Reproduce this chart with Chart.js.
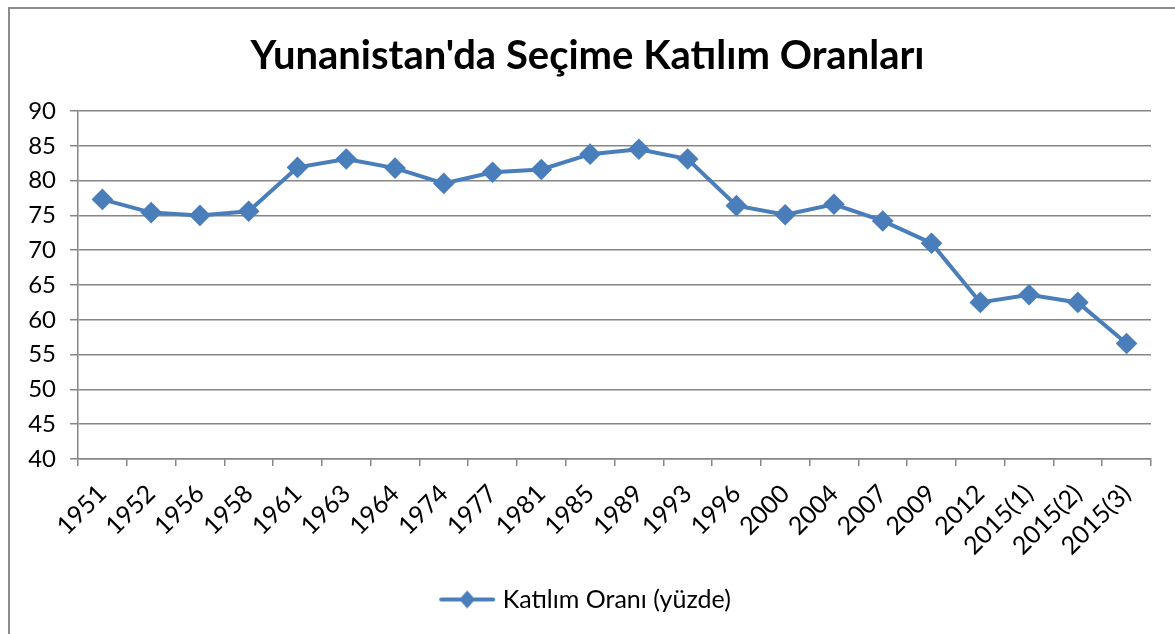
<!DOCTYPE html>
<html>
<head>
<meta charset="utf-8">
<script src="https://cdn.jsdelivr.net/npm/chart.js@4.4.0/dist/chart.umd.min.js"></script>
<style>
  html, body { margin: 0; padding: 0; background: #fff; }
  #wrap { position: absolute; left: 0; top: 0; width: 1175px; height: 634px; }
  #frame { position: absolute; left: 8px; top: 7px; width: 1175px; height: 640px;
           border-left: 2px solid #8c8c8c; border-top: 2px solid #8c8c8c; }
  canvas { position: absolute; left: 0; top: 0; }
</style>
</head>
<body>
<div id="wrap">
  <div id="frame"></div>
  <canvas id="chart" width="1175" height="634"></canvas>
</div>
<script>
// Greek election turnout
const elections = ['1951', '1952', '1956', '1958', '1961', '1963', '1964', '1974', '1977', '1981', '1985',
                   '1989', '1993', '1996', '2000', '2004', '2007', '2009', '2012', '2015(1)', '2015(2)', '2015(3)'];
const turnout = [77.3, 75.4, 75.0, 75.6, 81.9, 83.1, 81.8, 79.6, 81.2, 81.6, 83.8,
                 84.5, 83.1, 76.4, 75.1, 76.6, 74.2, 71.0, 62.5, 63.6, 62.5, 56.6];
const yTicks = [40, 45, 50, 55, 60, 65, 70, 75, 80, 85, 90];

const lineColor = '#4a7ebb';
const gridColor = '#868686';

// legend marker: line with a diamond in the middle
function legendMarker() {
    const c = document.createElement('canvas');
    c.width = 58; c.height = 22;
    const g = c.getContext('2d');
    g.strokeStyle = lineColor;
    g.lineWidth = 4;
    g.lineCap = 'round';
    g.beginPath(); g.moveTo(3, 11); g.lineTo(55, 11); g.stroke();
    g.fillStyle = lineColor;
    g.beginPath(); g.moveTo(29, 2); g.lineTo(37, 11); g.lineTo(29, 20); g.lineTo(21, 11); g.closePath(); g.fill();
    return c;
}

new Chart(document.getElementById('chart'), {
    type: 'line',
    data: {
        labels: elections,
        datasets: [{
            label: 'Katılım Oranı (yüzde)',
            data: turnout,
            borderColor: lineColor,
            backgroundColor: lineColor,
            borderWidth: 4,
            pointStyle: 'rectRot',
            pointRadius: 8,
            pointHoverRadius: 8,
            tension: 0
        }]
    },
    options: {
        responsive: false,
        animation: false,
        layout: { padding: { left: 24, right: 24, top: 22, bottom: 12 } },
        plugins: {
            title: {
                display: true,
                text: "Yunanistan'da Seçime Katılım Oranları",
                color: '#000',
                font: { family: 'Lato', size: 40, weight: 'bold' },
                padding: { top: 10, bottom: 31 }
            },
            legend: {
                position: 'bottom',
                labels: {
                    usePointStyle: true,
                    pointStyle: legendMarker(),
                    pointStyleWidth: 46,
                    color: '#000',
                    font: { family: 'Lato', size: 25 },
                    padding: 4
                }
            },
            tooltip: { enabled: false }
        },
        scales: {
            x: {
                offset: true,
                grid: { display: true, drawOnChartArea: false, offset: true, color: gridColor, lineWidth: 1.5, tickLength: 7 },
                border: { color: gridColor, width: 1.5 },
                ticks: { color: '#000', font: { family: 'Lato', size: 25 }, minRotation: 45, maxRotation: 45, padding: 13, autoSkip: false },
                afterFit: function(scale) { scale.height = 124; }
            },
            y: {
                min: 40,
                max: 90,
                afterBuildTicks: function(scale) { scale.ticks = yTicks.map(v => ({ value: v })); },
                grid: { color: gridColor, lineWidth: 1.5, tickLength: 8 },
                border: { color: gridColor, width: 1.5 },
                ticks: { color: '#000', font: { family: 'Lato', size: 24 }, padding: 14 },
                afterFit: function(scale) { scale.width = 54; }
            }
        }
    }
});
</script>
</body>
</html>
